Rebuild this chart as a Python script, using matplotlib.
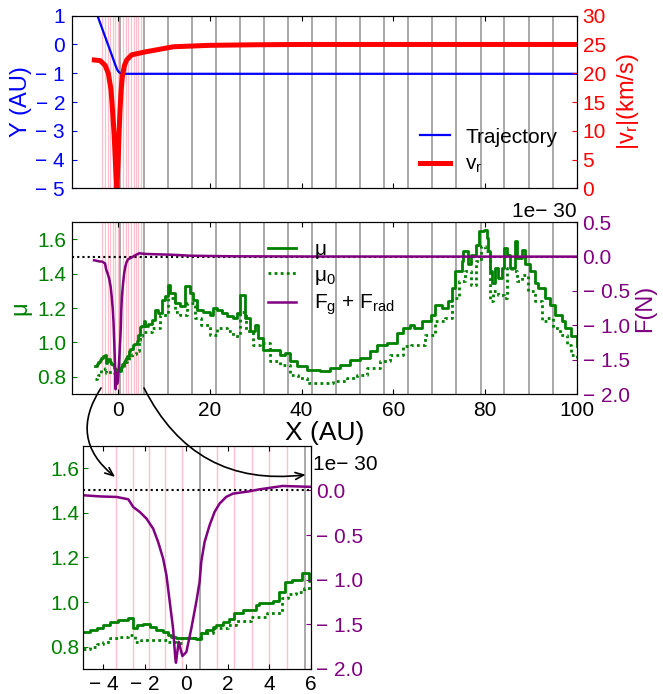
import matplotlib
matplotlib.use('Agg')
import matplotlib.pyplot as plt
from matplotlib.patches import ConnectionPatch
from matplotlib.ticker import FuncFormatter

plt.rcParams['font.family'] = ['Liberation Sans', 'DejaVu Sans']
plt.rcParams['mathtext.fontset'] = 'custom'
plt.rcParams['mathtext.rm'] = 'Liberation Sans'
plt.rcParams['mathtext.it'] = 'Liberation Sans:italic'
plt.rcParams['font.size'] = 15
plt.rcParams['axes.labelsize'] = 17
plt.rcParams['legend.fontsize'] = 15
plt.rcParams['xtick.direction'] = 'in'
plt.rcParams['ytick.direction'] = 'in'

# ---------------- data ----------------
traj_x = [-5.2, -4.4, -2.81, -1.35, -0.5, -0.2, 0.0, 0.3, 0.6, 1.0, 1.5, 100.0]
traj_y = [1.33, 0.98, 0.28, -0.36, -0.74, -0.86, -0.92, -0.97, -1.0, -1.015, -1.02, -1.02]

vr_x = [-5.13, -3.9, -2.81, -2.09, -1.5, -1.3, -1.07, -0.8, -0.63, -0.45, -0.23,
        0.09, 0.25, 0.46, 0.7, 0.97, 1.4, 1.91, 3.0, 5.9, 12.1, 20.0, 30.0, 40.0, 100.0]
vr_y = [22.3, 22.2, 21.4, 20.0, 17.1, 15.0, 12.4, 9.0, 6.1, 3.0, 0.0,
        5.5, 9.5, 13.6, 17.0, 19.4, 21.3, 22.3, 23.2, 23.7, 24.6, 24.85, 24.95, 25.0, 25.0]

mu_x = [-4.99, -4.64, -4.32, -4.0, -3.68, -3.28, -2.80, -2.56, -2.4, -2.08, -1.76, -1.44,
        -1.12, -0.88, -0.72, -0.48, 0.48, 0.72, 0.96, 1.28, 1.44, 1.76, 2.08, 2.32, 2.72,
        3.36, 3.52, 4.16, 4.45, 4.77, 5.12, 5.60, 5.92, 6.6, 7.35, 8.08, 8.8, 9.53, 10.3,
        10.98, 11.35, 12.44, 13.5, 14.6, 15.7, 16.4, 17.15, 18.6, 20.06, 20.8, 21.5, 22.6,
        23.7, 25.1, 26.0, 26.6, 27.7, 28.8, 29.9, 30.6, 31.7, 33.9, 35.3, 36.4, 37.5, 39.0,
        41.1, 44.0, 46.2, 48.4, 50.6, 52.8, 54.9, 56.4, 58.6, 60.7, 62.2, 63.6, 64.4, 66.2,
        68.3, 69.1, 70.5, 72.0, 72.7, 73.4, 74.9, 75.2, 76.3, 77.0, 78.1, 78.6, 79.8, 80.3,
        80.7, 81.07, 81.4, 82.2, 82.9, 83.6, 84.2, 84.7, 85.4, 86.4, 86.9, 88.0, 88.7, 89.8,
        90.9, 91.6, 93.0, 94.1, 95.2, 96.7, 97.4, 98.8, 99.9]
mu_y = [0.864, 0.874, 0.885, 0.897, 0.909, 0.919, 0.930, 0.882, 0.897, 0.901, 0.889, 0.874,
        0.867, 0.852, 0.845, 0.840, 0.834, 0.859, 0.874, 0.886, 0.897, 0.912, 0.922, 0.949, 0.964,
        0.986, 0.994, 1.006, 1.046, 1.091, 1.098, 1.128, 1.095, 1.11, 1.133, 1.191, 1.17, 1.249, 1.27,
        1.337, 1.289, 1.23, 1.21, 1.327, 1.289, 1.25, 1.19, 1.18, 1.162, 1.20, 1.19, 1.17,
        1.152, 1.142, 1.17, 1.278, 1.142, 1.065, 1.104, 1.026, 0.958, 0.958, 0.929, 0.939, 0.890, 0.861,
        0.842, 0.836, 0.852, 0.871, 0.900, 0.910, 0.948, 0.987, 0.997, 1.055, 1.084, 1.104, 1.084, 1.123,
        1.162, 1.220, 1.200, 1.240, 1.317, 1.415, 1.473, 1.531, 1.455, 1.512, 1.570, 1.651, 1.657, 1.609,
        1.531, 1.415, 1.346, 1.434, 1.376, 1.434, 1.550, 1.510, 1.434, 1.590, 1.490, 1.540, 1.455, 1.415,
        1.346, 1.317, 1.259, 1.220, 1.162, 1.123, 1.084, 1.036, 0.978]

mu0_x = [-4.99, -4.64, -4.32, -4.0, -3.68, -3.28, -2.80, -2.5, -2.2, -1.76, -1.4, -0.88,
         -0.5, -0.2, 0.7, 1.3, 2.0, 2.4, 3.1, 3.9, 4.6, 4.9, 5.3, 5.7, 7.35, 9.16, 11.0,
         12.4, 13.5, 15.0, 16.8, 18.2, 20.0, 21.5, 23.7, 25.1, 26.6, 28.0, 29.5, 31.0, 33.2,
         35.3, 37.5, 39.3, 41.1, 44.0, 46.9, 49.8, 52.0, 54.2, 57.1, 59.3, 62.2, 63.95, 66.9,
         69.1, 71.25, 72.7, 74.2, 75.6, 77.0, 78.1, 79.1, 79.9, 81.07, 81.8, 82.9, 84.0, 84.7,
         85.8, 86.9, 88.0, 89.4, 90.9, 92.3, 93.4, 94.8, 96.3, 97.8, 98.8, 99.9]
mu0_y = [0.789, 0.800, 0.810, 0.822, 0.837, 0.845, 0.852, 0.822, 0.829, 0.829, 0.829, 0.822,
         0.815, 0.837, 0.859, 0.885, 0.897, 0.914, 0.934, 0.949, 1.016, 1.038, 1.046, 1.061, 1.084, 1.162, 1.26,
         1.18, 1.16, 1.23, 1.142, 1.104, 1.045, 1.084, 1.065, 1.036, 1.18, 1.065, 0.987, 0.997, 0.890,
         0.871, 0.813, 0.794, 0.764, 0.764, 0.774, 0.794, 0.813, 0.852, 0.890, 0.929, 0.978, 0.987, 1.045,
         1.123, 1.142, 1.259, 1.356, 1.415, 1.337, 1.473, 1.560, 1.531, 1.240, 1.298, 1.278, 1.259, 1.434,
         1.415, 1.356, 1.395, 1.298, 1.240, 1.123, 1.142, 1.084, 1.045, 0.987, 0.929, 0.910]

F_x = [-5.2, -4.96, -4.16, -3.36, -2.80, -2.56, -2.24, -1.92, -1.60, -1.36, -1.12, -0.96,
       -0.80, -0.64, -0.53, -0.50, -0.37, -0.19, 0.0, 0.24, 0.48, 0.64, 0.72, 0.88, 1.12,
       1.36, 1.60, 1.92, 2.24, 3.04, 3.52, 4.64, 5.92, 8.0, 12.0, 16.0, 25.0, 40.0, 100.0]
F_y = [-0.053, -0.055, -0.068, -0.074, -0.10, -0.187, -0.243, -0.317, -0.429, -0.578, -0.764, -0.95,
       -1.249, -1.547, -1.882, -1.93, -1.695, -1.855, -1.81, -1.547, -1.249, -1.024, -0.80, -0.578, -0.392,
       -0.243, -0.149, -0.074, -0.037, -0.011, 0.011, 0.049, 0.040, 0.035, 0.027, 0.013, 0.005, 0.002, 0.0]

gray_main = [0.5, 5.7, 10.9, 16.1, 21.3, 26.6, 31.8, 37.0, 42.2, 47.5, 52.7, 58.0,
             63.2, 68.5, 73.7, 79.0, 84.2, 89.5, 94.7]
pink_main = [-3.4, -2.8, -2.2, -1.7, -1.1, -0.6, -0.05, 1.2, 1.7, 2.3, 2.8, 3.4, 3.9, 4.4, 5.0]
gray_inset = [0.64, 5.73]
pink_inset = [-3.39, -2.59, -1.81, -1.01, -0.21, 1.47, 2.32, 3.15, 4.0, 4.85]

y_ticks = [-5, -4, -3, -2, -1, 0, 1]
vr_ticks = [0, 5, 10, 15, 20, 25, 30]
mu_ticks = [0.8, 1.0, 1.2, 1.4, 1.6]
F_ticks = [-2.0, -1.5, -1.0, -0.5, 0.0, 0.5]
F_ticks_inset = [-2.0, -1.5, -1.0, -0.5, 0.0]
x_ticks = [0, 20, 40, 60, 80, 100]
xin_ticks = [-4, -2, 0, 2, 4, 6]


def fmt(dec):
    def f(v, p):
        if abs(v) < 1e-9:
            v = 0.0
        s = f"{v:.{dec}f}"
        return s.replace('-', '\u2212 ')
    return FuncFormatter(f)


W, H = 663, 694
fig = plt.figure(figsize=(W / 100, H / 100), dpi=100)


def px_axes(l, t, r, b):
    return fig.add_axes([l / W, 1 - b / H, (r - l) / W, (b - t) / H])


def ylab(ax, text, color, xpix, left_px, width_px, **kw):
    ax.set_ylabel(text, color=color, va='center', ha='center', **kw)
    ax.yaxis.set_label_coords((xpix - left_px) / width_px, 0.5)


GREEN = '#008000'
PURPLE = '#800080'
GRAY = '#999999'
PINK = '#ffc0cb'

# ---------------- top panel ----------------
ax1 = px_axes(72, 15.7, 577, 188.3)
ax1r = ax1.twinx()
for xv in pink_main:
    ax1.axvline(xv, color=PINK, lw=0.9, zorder=0)
for xv in gray_main:
    ax1.axvline(xv, color=GRAY, lw=1.2, zorder=0)
l1, = ax1.plot(traj_x, traj_y, color='blue', lw=1.6)
l2, = ax1r.plot(vr_x, vr_y, color='red', lw=3.6)
ax1.set_xlim(-10, 100)
ax1.set_ylim(-5, 1)
ax1r.set_ylim(0, 30)
ax1.set_xticks(x_ticks)
ax1.tick_params(axis='x', top=True, labelbottom=False)
ax1.set_yticks(y_ticks)
ax1.yaxis.set_major_formatter(fmt(0))
ax1.tick_params(axis='y', colors='blue', pad=5)
ax1r.set_yticks(vr_ticks)
ax1r.tick_params(axis='y', colors='red', pad=4)
ylab(ax1, 'Y (AU)', 'blue', 21, 72, 505)
ylab(ax1r, r'|v$_{\rm r}$|(km/s)', 'red', 628, 72, 505)
ax1r.legend([l1, l2], ['Trajectory', r'v$_{\rm r}$'], frameon=False,
            loc='center left', bbox_to_anchor=(0.651, 0.213),
            handlelength=1.45, handletextpad=0.75, labelspacing=0.4)

# ---------------- middle panel ----------------
ax2 = px_axes(72, 222.3, 577, 394)
ax2r = ax2.twinx()
for xv in pink_main:
    ax2.axvline(xv, color=PINK, lw=0.9, zorder=0)
for xv in gray_main:
    ax2.axvline(xv, color=GRAY, lw=1.2, zorder=0)
m1, = ax2.plot(mu_x, mu_y, color=GREEN, lw=2.0, drawstyle='steps-post')
m2, = ax2.plot(mu0_x, mu0_y, color=GREEN, lw=2.0, ls=(0, (1, 1.2)), drawstyle='steps-post')
ax2r.axhline(0.0, color='black', lw=1.5, ls=(0, (1, 1.5)))
f1, = ax2r.plot(F_x, F_y, color=PURPLE, lw=1.8)
ax2.set_xlim(-10, 100)
ax2.set_ylim(0.7, 1.7)
ax2r.set_ylim(-2.0, 0.5)
ax2.set_xticks(x_ticks)
ax2.tick_params(axis='x', top=True, pad=5)
ax2.set_yticks(mu_ticks)
ax2.yaxis.set_major_formatter(fmt(1))
ax2.tick_params(axis='y', colors=GREEN, pad=4)
ax2r.set_yticks(F_ticks)
ax2r.yaxis.set_major_formatter(fmt(1))
ax2r.tick_params(axis='y', colors=PURPLE, pad=4)
ylab(ax2, '\u03bc', GREEN, 20, 72, 505)
ylab(ax2r, 'F(N)', PURPLE, 645, 72, 505)
ax2.set_xlabel('X (AU)', va='center', fontsize=19)
ax2.xaxis.set_label_coords(0.5, -(433 - 394) / 171.7)
ax2.text(1.0, 1.01, '1e\u2212 30', ha='right', va='bottom', transform=ax2.transAxes)
ax2r.legend([m1, m2, f1], ['\u03bc', '\u03bc$_{0}$', r'F$_{\rm g}$ + F$_{\rm rad}$'],
            frameon=False, loc='center left', bbox_to_anchor=(0.350, 0.67),
            handlelength=1.35, handletextpad=0.9, labelspacing=0.3)

# ---------------- inset ----------------
ax3 = px_axes(82.7, 445.7, 310.7, 669)
ax3r = ax3.twinx()
for xv in pink_inset:
    ax3.axvline(xv, color=PINK, lw=1.0, zorder=0)
for xv in gray_inset:
    ax3.axvline(xv, color=GRAY, lw=1.2, zorder=0)
ax3.plot(mu_x, mu_y, color=GREEN, lw=2.0, drawstyle='steps-post')
ax3.plot(mu0_x, mu0_y, color=GREEN, lw=2.0, ls=(0, (1, 1.2)), drawstyle='steps-post')
ax3r.axhline(0.0, color='black', lw=1.5, ls=(0, (1, 1.5)))
ax3r.plot(F_x, F_y, color=PURPLE, lw=1.8)
ax3.set_xlim(-5, 6)
ax3.set_ylim(0.7, 1.7)
ax3r.set_ylim(-2.0, 0.5)
ax3.set_xticks(xin_ticks)
ax3.xaxis.set_major_formatter(fmt(0))
ax3.tick_params(axis='x', top=True, pad=4)
ax3.set_yticks(mu_ticks)
ax3.yaxis.set_major_formatter(fmt(1))
ax3.tick_params(axis='y', colors=GREEN, pad=2.5)
ax3r.set_yticks(F_ticks_inset)
ax3r.yaxis.set_major_formatter(fmt(1))
ax3r.tick_params(axis='y', colors=PURPLE, pad=4)
ax3.text(1.01, 0.916, '1e\u2212 30', ha='left', va='center', transform=ax3.transAxes)

# ---------------- connecting arrows ----------------
c1 = ConnectionPatch(xyA=(-3.68, 0.735), coordsA=ax2.transData,
                     xyB=(-3.44, 1.56), coordsB=ax3.transData,
                     arrowstyle='->,head_length=0.6,head_width=0.25',
                     connectionstyle='arc3,rad=0.45', color='black', lw=1.2)
c2 = ConnectionPatch(xyA=(5.68, 0.735), coordsA=ax2.transData,
                     xyB=(5.76, 1.57), coordsB=ax3.transData,
                     arrowstyle='->,head_length=0.6,head_width=0.25',
                     connectionstyle='arc3,rad=0.35', color='black', lw=1.2)
fig.add_artist(c1)
fig.add_artist(c2)

fig.savefig('out.png', dpi=100)
